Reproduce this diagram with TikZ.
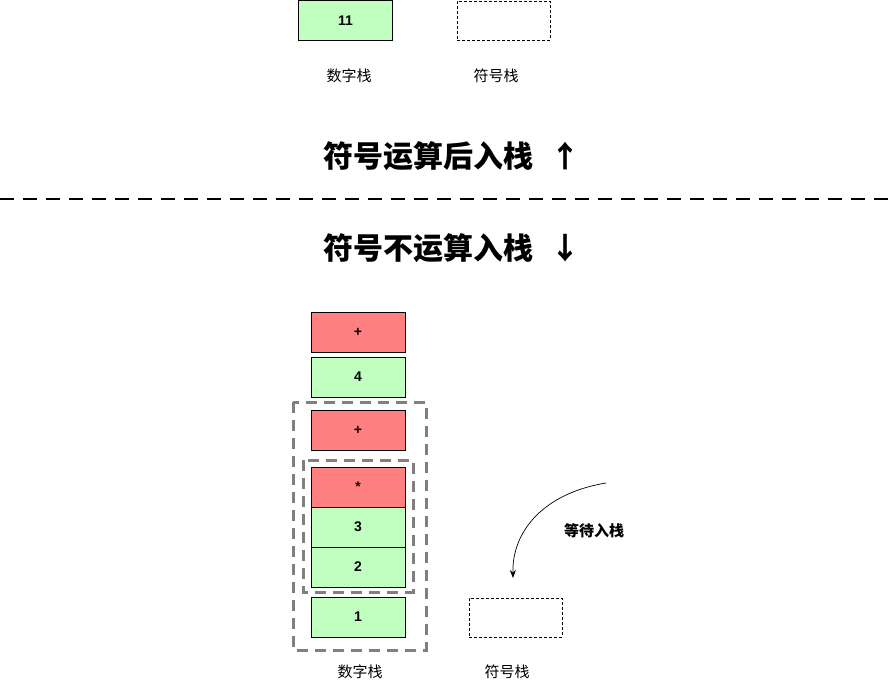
\documentclass[tikz,border=0pt]{standalone}
\usepackage{fontspec}
\setmainfont{Liberation Sans}
\newfontfamily\cjk{Noto Sans CJK SC}
\usetikzlibrary{arrows.meta}
\definecolor{gfill}{HTML}{C0FFC0}
\definecolor{rfill}{HTML}{FF8080}
\definecolor{dgray}{HTML}{808080}
\tikzset{
  cell/.style={draw=black, line width=0.8pt, minimum width=94pt, minimum height=40pt, inner sep=0pt, font=\fontsize{14}{14}\selectfont\bfseries},
  num/.style={cell, fill=gfill},
  op/.style={cell, fill=rfill},
  emptybox/.style={draw=black, dashed, dash pattern=on 3pt off 2pt, line width=0.6pt, minimum width=93pt, minimum height=39pt, inner sep=0pt},
  lbl/.style={font=\cjk\fontsize{15}{15}\selectfont, inner sep=0pt},
  title/.style={font=\cjk\bfseries\fontsize{30}{30}\selectfont, inner sep=0pt},
  grp/.style={draw=dgray, line width=3pt, dash pattern=on 11pt off 7pt},
}
\begin{document}
\begin{tikzpicture}[x=1pt,y=-1pt]
\useasboundingbox (0,0) rectangle (896,689);
% top
\node[num] (n11) at (345.5,20.5) {11};
\node[emptybox] (s1) at (503.5,20.5) {};
\node[lbl] (l1) at (349,76) {数字栈};
\node[lbl] (l2) at (496,76) {符号栈};
\node[title] (t1) at (452,156) {符号运算后入栈\hspace{17pt}↑};
\draw[line width=2.5pt, dash pattern=on 14pt off 9pt] (0,199) coordinate (d0) -- (896,199) coordinate (d1);
\node[title] (t2) at (452,248) {符号不运算入栈\hspace{17pt}↓};
% stack
\node[op] (p1) at (358,332) {+};
\node[num] (n4) at (358,377) {4};
\node[op] (p2) at (358,430) {+};
\node[op] (st) at (358,487) {*};
\node[num] (n3) at (358,527) {3};
\node[num] (n2) at (358,567) {2};
\node[num] (n1) at (358,617) {1};
\draw[grp] (293,402) rectangle (426,650);
\draw[grp] (303,460) rectangle (413,592);
\node[lbl] (l3) at (360,672) {数字栈};
\node[emptybox] (s2) at (515.5,617.5) {};
\node[lbl] (l4) at (507,672) {符号栈};
\coordinate (a0) at (606,483);
\coordinate (a1) at (513,578);
\draw[-{Stealth[length=8pt,width=6pt]}, line width=0.7pt] (a0) .. controls (545,493) and (512,530) .. (a1);
\node[lbl, font=\cjk\bfseries\fontsize{15}{15}\selectfont] (w) at (594,531) {等待入栈};
\end{tikzpicture}
\end{document}
